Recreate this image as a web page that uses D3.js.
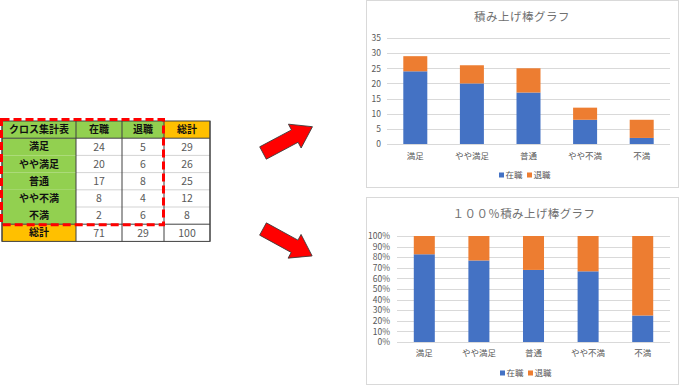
<!DOCTYPE html>
<html>
<head>
<meta charset="utf-8">
<script src="https://cdn.jsdelivr.net/npm/d3@7"></script>
<style>
  body { margin: 0; background: #fff; }
  svg { display: block; font-family: "Noto Sans CJK JP", "Noto Sans", sans-serif; }
</style>
</head>
<body>
<div id="container"></div>
<script>

var categories = ["満足", "やや満足", "普通", "やや不満", "不満"];
var seriesNames = ["在職", "退職"];
var zaishoku = [24, 20, 17, 8, 2];
var taishoku = [5, 6, 8, 4, 6];
var countTicks = [0, 5, 10, 15, 20, 25, 30, 35];
var percentTicks = [0, 0.1, 0.2, 0.3, 0.4, 0.5, 0.6, 0.7, 0.8, 0.9, 1];
var tableHeader = ["クロス集計表", "在職", "退職", "総計"];
var totalLabel = "総計";

var BLUE = "#4472C4", ORANGE = "#ED7D31", GRID = "#D9D9D9", TEXT = "#595959";

var svg = d3.select("#container").append("svg")
    .attr("width", 680)
    .attr("height", 386);

// ---------- table ----------
function drawTable()
{
    var colX = [2, 76, 122, 164, 210];
    var headerY = 121, rowH = 17.2;
    var g = svg.append("g");

    var rows = categories.map(function (c, i)
    {
        return [c, zaishoku[i], taishoku[i], zaishoku[i] + taishoku[i]];
    });
    var totalRow = [totalLabel, d3.sum(zaishoku), d3.sum(taishoku), d3.sum(zaishoku) + d3.sum(taishoku)];
    var all = [tableHeader].concat(rows).concat([totalRow]);

    all.forEach(function (row, r)
    {
        var y = headerY + r * rowH;
        row.forEach(function (val, c)
        {
            var fill = "#fff";
            if (r == 0) fill = (c == 3) ? "#FFC000" : "#92D050";
            else if (r == all.length - 1) fill = (c == 0) ? "#FFC000" : "#fff";
            else if (c == 0) fill = "#92D050";

            g.append("rect")
                .attr("x", colX[c]).attr("y", y)
                .attr("width", colX[c + 1] - colX[c]).attr("height", rowH)
                .attr("fill", fill);

            var bold = (r == 0 || c == 0);
            g.append("text")
                .attr("x", (colX[c] + colX[c + 1]) / 2)
                .attr("y", y + rowH / 2)
                .attr("dy", "0.36em")
                .attr("text-anchor", "middle")
                .attr("font-size", bold ? 10 : 10.5)
                .attr("font-weight", bold ? "bold" : "normal")
                .attr("fill", bold ? "#111" : TEXT)
                .text(val);
        });
    });

    var bottom = headerY + all.length * rowH;
    // light row lines in the white area
    for (var r = 2; r < all.length - 1; r++)
    {
        g.append("line")
            .attr("x1", colX[1]).attr("x2", colX[4])
            .attr("y1", headerY + r * rowH).attr("y2", headerY + r * rowH)
            .attr("stroke", "#C8C8C8").attr("stroke-width", 0.8);
    }
    // darker lines
    [headerY + rowH, headerY + (all.length - 1) * rowH].forEach(function (y)
    {
        g.append("line").attr("x1", colX[0]).attr("x2", colX[4])
            .attr("y1", y).attr("y2", y)
            .attr("stroke", "#404040").attr("stroke-width", 1);
    });
    colX.forEach(function (x)
    {
        g.append("line").attr("x1", x).attr("x2", x)
            .attr("y1", headerY).attr("y2", bottom)
            .attr("stroke", "#404040").attr("stroke-width", 1);
    });
    g.append("rect")
        .attr("x", colX[0]).attr("y", headerY)
        .attr("width", colX[4] - colX[0]).attr("height", bottom - headerY)
        .attr("fill", "none").attr("stroke", "#404040").attr("stroke-width", 1);

    // red dashed selection
    g.append("rect")
        .attr("x", 1.5).attr("y", 119.5)
        .attr("width", 162).attr("height", headerY + 6 * rowH - 119.5 + 0.5)
        .attr("fill", "none")
        .attr("stroke", "#FF0000").attr("stroke-width", 3)
        .attr("stroke-dasharray", "8,4");
}

// ---------- arrows ----------
function drawArrow(x, y, angle)
{
    var shape = [[0, -7], [36, -7], [36, -13.5], [56, 0], [36, 13.5], [36, 7], [0, 7]];
    svg.append("path")
        .attr("d", d3.line()(shape) + "Z")
        .attr("transform", "translate(" + x + "," + y + ") rotate(" + angle + ")")
        .attr("fill", "#FF0000")
        .attr("stroke", "#3a3a3a").attr("stroke-width", 0.8);
}

// ---------- charts ----------
function drawChart(opt)
{
    var g = svg.append("g");

    g.append("rect")
        .attr("x", opt.box[0] + 0.5).attr("y", opt.box[1] + 0.5)
        .attr("width", opt.box[2]).attr("height", opt.box[3])
        .attr("fill", "#fff").attr("stroke", GRID).attr("stroke-width", 1);

    g.append("text")
        .attr("x", opt.titleX).attr("y", opt.titleY)
        .attr("text-anchor", "middle")
        .attr("font-size", 11.5)
        .attr("letter-spacing", opt.titleSpacing)
        .attr("fill", "#707070")
        .text(opt.title);

    var x = d3.scaleBand()
        .domain(categories)
        .range([opt.left, opt.right])
        .paddingInner(opt.pad)
        .paddingOuter(opt.pad / 2);

    var y = d3.scaleLinear()
        .domain([0, opt.max])
        .range([opt.bottom, opt.top]);

    g.selectAll(".grid")
        .data(opt.ticks)
        .enter().append("line")
        .attr("x1", opt.left).attr("x2", opt.right)
        .attr("y1", function (d) { return Math.round(y(d)) + 0.5; })
        .attr("y2", function (d) { return Math.round(y(d)) + 0.5; })
        .attr("stroke", GRID).attr("stroke-width", 1);

    var yAxis = g.append("g")
        .attr("transform", "translate(" + opt.labelX + ",0)")
        .call(d3.axisLeft(y).tickValues(opt.ticks).tickSize(0).tickFormat(opt.fmt));
    yAxis.select(".domain").remove();
    yAxis.selectAll("text")
        .attr("x", 0)
        .attr("font-size", 8.5)
        .attr("font-family", "Noto Sans CJK JP, sans-serif")
        .attr("fill", TEXT);

    var stack = d3.stack().keys([0, 1]).value(function (d, k) { return d[k]; });
    if (opt.percent) stack.offset(d3.stackOffsetExpand);
    var rows = categories.map(function (c, i) { return [zaishoku[i], taishoku[i]]; });
    var layers = stack(rows);
    var colors = [BLUE, ORANGE];

    layers.forEach(function (layer, li)
    {
        g.selectAll(".bar" + li)
            .data(layer)
            .enter().append("rect")
            .attr("x", function (d, i) { return x(categories[i]); })
            .attr("y", function (d) { return y(d[1]); })
            .attr("width", x.bandwidth())
            .attr("height", function (d) { return y(d[0]) - y(d[1]); })
            .attr("fill", colors[li]);
    });

    var xAxis = g.append("g")
        .attr("transform", "translate(0," + opt.xLabelY + ")")
        .call(d3.axisBottom(x).tickSize(0));
    xAxis.select(".domain").remove();
    xAxis.selectAll("text")
        .attr("y", 0).attr("dy", "0.36em")
        .attr("font-size", 8.5)
        .attr("font-family", "Noto Sans CJK JP, sans-serif")
        .attr("fill", TEXT);

    // legend
    var legendX = [opt.legendX, opt.legendX + 28];
    seriesNames.forEach(function (name, i)
    {
        g.append("rect")
            .attr("x", legendX[i]).attr("y", opt.legendY - 2.5)
            .attr("width", 5).attr("height", 5)
            .attr("fill", colors[i]);
        g.append("text")
            .attr("x", legendX[i] + 6.5).attr("y", opt.legendY)
            .attr("dy", "0.36em")
            .attr("font-size", 8.5)
            .attr("fill", TEXT)
            .text(name);
    });
}

drawTable();
drawArrow(263, 153, -28);
drawArrow(263, 229, 28.7);

drawChart({
    box: [366, 0, 312, 187],
    title: "積み上げ棒グラフ", titleX: 522, titleY: 21, titleSpacing: 0.5,
    left: 387, right: 670, top: 38, bottom: 144,
    max: 35, ticks: countTicks, fmt: d3.format("d"), percent: false,
    pad: 0.576, labelX: 381, xLabelY: 156,
    legendX: 499, legendY: 175
});

drawChart({
    box: [366, 197, 312, 187],
    title: "１００％積み上げ棒グラフ", titleX: 524, titleY: 218, titleSpacing: 0.4,
    left: 397, right: 670, top: 236, bottom: 342,
    max: 1, ticks: percentTicks, fmt: d3.format(".0%"), percent: true,
    pad: 0.615, labelX: 390, xLabelY: 353,
    legendX: 500, legendY: 373
});

</script>
</body>
</html>
